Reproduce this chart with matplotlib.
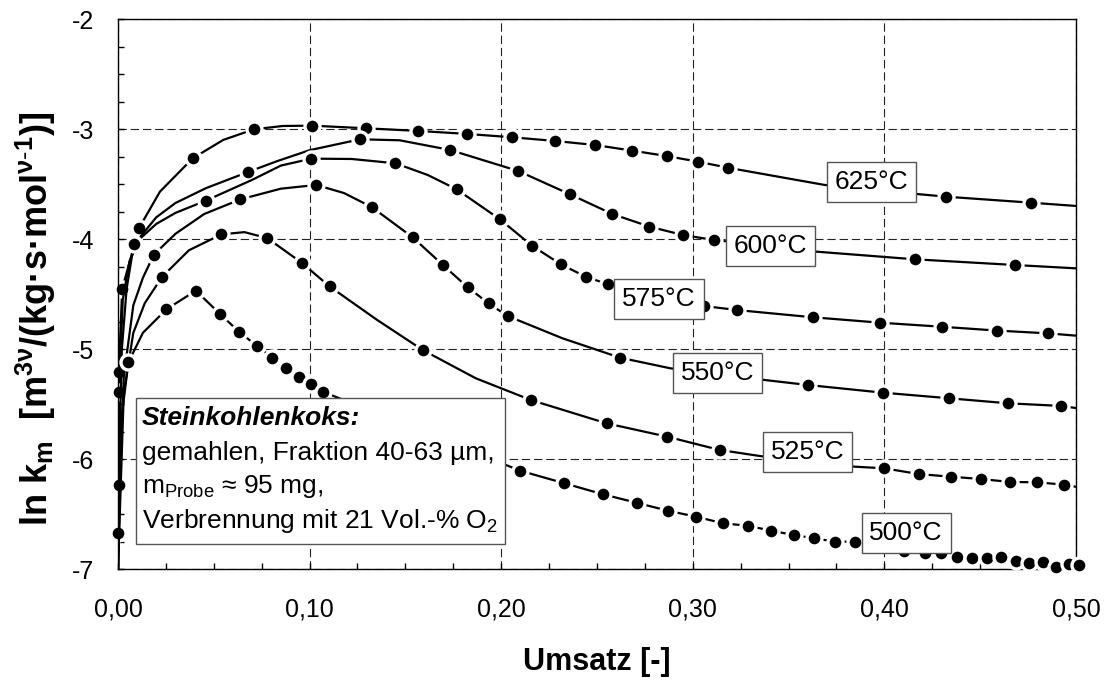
import matplotlib
matplotlib.use("Agg")
import matplotlib.pyplot as plt
from matplotlib.patches import Rectangle
from matplotlib.ticker import MultipleLocator, FuncFormatter

plt.rcParams["font.family"] = ["Liberation Sans", "DejaVu Sans"]
plt.rcParams["mathtext.fontset"] = "custom"
plt.rcParams["mathtext.rm"] = "Liberation Sans"
plt.rcParams["mathtext.it"] = "Liberation Sans:italic"
plt.rcParams["mathtext.bf"] = "Liberation Sans:bold"
plt.rcParams["axes.unicode_minus"] = False

# markers (x = Umsatz, y = ln km)
x625 = [0.0004, 0.0022, 0.0109, 0.039, 0.071, 0.1012, 0.1295, 0.1568, 0.1821, 0.2059, 0.2281,
        0.249, 0.2684, 0.2863, 0.3026, 0.3182, 0.4324, 0.4764]
y625 = [-5.21, -4.45, -3.90, -3.264, -3.00, -2.967, -2.991, -3.015, -3.042, -3.073, -3.106,
        -3.143, -3.194, -3.243, -3.294, -3.349, -3.613, -3.667]
x625_line = [0.0, 0.0219, 0.0549, 0.086, 0.3688, 0.418, 0.5]
y625_line = [-7.0, -3.567, -3.097, -2.97, -3.506, -3.59, -3.697]

x600 = [0.0004, 0.0679, 0.1264, 0.1733, 0.2089, 0.2359, 0.258, 0.2774, 0.2948, 0.3109, 0.416, 0.4684]
y600 = [-5.39, -3.388, -3.091, -3.188, -3.379, -3.591, -3.77, -3.885, -3.961, -4.006, -4.182, -4.234]
x600_line = [0.0, 0.0025, 0.006, 0.012, 0.02, 0.03, 0.0458, 0.083, 0.1, 0.147, 0.3158, 0.365, 0.5]
y600_line = [-7.0, -4.55, -4.2, -3.97, -3.80, -3.67, -3.536, -3.29, -3.19, -3.10, -4.015, -4.113, -4.264]

x575 = [0.0003, 0.0083, 0.0458, 0.1009, 0.1448, 0.1767, 0.1993, 0.2163, 0.2311, 0.2441, 0.2559,
        0.3057, 0.323, 0.3627, 0.3977, 0.43, 0.4589, 0.4854]
y575 = [-6.23, -4.045, -3.649, -3.267, -3.309, -3.545, -3.818, -4.061, -4.227, -4.34, -4.41,
        -4.606, -4.643, -4.709, -4.758, -4.795, -4.83, -4.855]
x575_line = [0.0, 0.002, 0.0045, 0.02, 0.03, 0.07, 0.085, 0.122, 0.1616, 0.5]
y575_line = [-7.0, -5.0, -4.45, -3.86, -3.76, -3.46, -3.33, -3.27, -3.415, -4.876]

x550 = [0.0002, 0.0187, 0.0639, 0.1035, 0.1326, 0.1538, 0.1698, 0.1825, 0.1934, 0.2033, 0.262,
        0.3604, 0.3991, 0.4337, 0.4646, 0.4924]
y550 = [-6.67, -4.14, -3.637, -3.506, -3.709, -3.982, -4.237, -4.436, -4.582, -4.697, -5.076,
        -5.325, -5.394, -5.445, -5.491, -5.515]
x550_line = [0.0, 0.003, 0.008, 0.013, 0.03, 0.045, 0.085, 0.118, 0.232, 0.2884, 0.3375, 0.5]
y550_line = [-7.0, -5.25, -4.6, -4.35, -3.95, -3.77, -3.54, -3.58, -4.90, -5.173, -5.279, -5.534]

x525 = [0.0231, 0.054, 0.078, 0.096, 0.1104, 0.159, 0.2155, 0.255, 0.2868, 0.314, 0.4, 0.418,
        0.4346, 0.4503, 0.4656, 0.4799, 0.4938]
y525 = [-4.34, -3.955, -3.99, -4.215, -4.428, -5.006, -5.461, -5.673, -5.795, -5.915, -6.082, -6.134,
        -6.158, -6.179, -6.206, -6.209, -6.231]
x525_line = [0.0, 0.003, 0.008, 0.014, 0.037, 0.066, 0.135, 0.1868, 0.335, 0.3845, 0.5]
y525_line = [-7.0, -5.4, -4.85, -4.58, -4.10, -3.935, -4.73, -5.264, -5.97, -6.067, -6.25]

x500 = [0.0054, 0.0253, 0.0406, 0.0531, 0.0633, 0.0726, 0.0806, 0.0878, 0.0944, 0.1009, 0.1069,
        0.21, 0.233, 0.2531, 0.2707, 0.2869, 0.3018, 0.3158, 0.3288, 0.341, 0.3526, 0.3635, 0.3743,
        0.3847, 0.4105, 0.4212, 0.4298, 0.4378, 0.4458, 0.4538, 0.4611, 0.4686, 0.4755, 0.4828,
        0.4894, 0.4962, 0.5016]
y500 = [-5.12, -4.636, -4.467, -4.676, -4.843, -4.97, -5.076, -5.167, -5.249, -5.315, -5.385,
        -6.104, -6.218, -6.318, -6.395, -6.467, -6.522, -6.582, -6.604, -6.649, -6.688, -6.718, -6.749,
        -6.749, -6.83, -6.849, -6.855, -6.891, -6.894, -6.9, -6.885, -6.922, -6.94, -6.931,
        -6.982, -6.955, -6.96]
x500_line = [0.0, 0.002, 0.013]
y500_line = [-7.0, -5.6, -4.85]

# label boxes: text, x, y
labels = ["625°C", "600°C", "575°C", "550°C", "525°C", "500°C"]
label_x = [0.3934, 0.3404, 0.2824, 0.313, 0.3598, 0.4114]
label_y = [-3.481, -4.061, -4.541, -5.219, -5.935, -6.67]

x_ticks = [0.0, 0.1, 0.2, 0.3, 0.4, 0.5]
y_ticks = [-7, -6, -5, -4, -3, -2]


def merged(mx, my, lx, ly):
    pts = sorted(zip(list(mx) + list(lx), list(my) + list(ly)))
    return [p[0] for p in pts], [p[1] for p in pts]


fig = plt.figure(figsize=(11.09, 6.81), dpi=100)
ax = fig.add_axes([0.1064, 0.164, 0.8638, 0.8077])

series = [
    (x625, y625, x625_line, y625_line),
    (x600, y600, x600_line, y600_line),
    (x575, y575, x575_line, y575_line),
    (x550, y550, x550_line, y550_line),
    (x525, y525, x525_line, y525_line),
    (x500, y500, x500_line, y500_line),
]
for i, (mx, my, lx, ly) in enumerate(series):
    px, py = merged(mx, my, lx, ly)
    ax.plot(px, py, color="black", lw=1.6, zorder=2 + i * 0.1)
    ax.plot(mx, my, "o", ms=10.8, mfc="black", mec="white", mew=2.4, ls="none",
            zorder=2.05 + i * 0.1, clip_on=False)

for t, lx, ly in zip(labels, label_x, label_y):
    ax.text(lx, ly, t, fontsize=19, ha="center", va="center", zorder=6,
            bbox=dict(boxstyle="square,pad=0.3", fc="white", ec="#555555", lw=1.0))

# info box
ax.add_patch(Rectangle((0.0094, -6.772), 0.1927, 1.327, fc="white", ec="#555555", lw=1.0, zorder=5))
ax.text(0.0123, -5.688, "Steinkohlenkoks:", fontsize=19, fontweight="bold", fontstyle="italic",
        va="baseline", zorder=6)
ax.text(0.0123, -6.006, "gemahlen, Fraktion 40-63 µm,", fontsize=19, va="baseline", zorder=6)
ax.text(0.0123, -6.309, r"m$_{\mathrm{Probe}}$ ≈ 95 mg,", fontsize=19, va="baseline", zorder=6)
ax.text(0.0123, -6.627, r"Verbrennung mit 21 Vol.-% O$_2$", fontsize=19, va="baseline", zorder=6)

ax.set_xlim(0, 0.5)
ax.set_ylim(-7, -2)
ax.set_xticks(x_ticks)
ax.set_yticks(y_ticks)
ax.xaxis.set_minor_locator(MultipleLocator(0.025))
ax.yaxis.set_minor_locator(MultipleLocator(0.25))
ax.xaxis.set_major_formatter(FuncFormatter(lambda v, p: f"{v:.2f}".replace(".", ",")))
ax.yaxis.set_major_formatter(FuncFormatter(lambda v, p: f"{v:.0f}"))
ax.tick_params(which="both", direction="in", length=4, width=1, labelsize=18)
ax.tick_params(axis="x", pad=20)
ax.tick_params(axis="y", pad=17)
ax.grid(True, which="major", color="#222222", lw=0.8, ls=(0, (7.5, 3.5)))
for s in ax.spines.values():
    s.set_linewidth(1.0)
    s.set_color("black")

ax.set_xlabel("Umsatz [-]", fontsize=22, fontweight="bold", labelpad=19)
ax.set_ylabel(r"$\mathbf{ln\ k_m\ \ [m^{3ν}/(kg·s·mol^{ν\text{-}1})]}$", fontsize=26)
ax.yaxis.set_label_coords(-0.063, 0.455)

fig.savefig("out.png", dpi=100)
